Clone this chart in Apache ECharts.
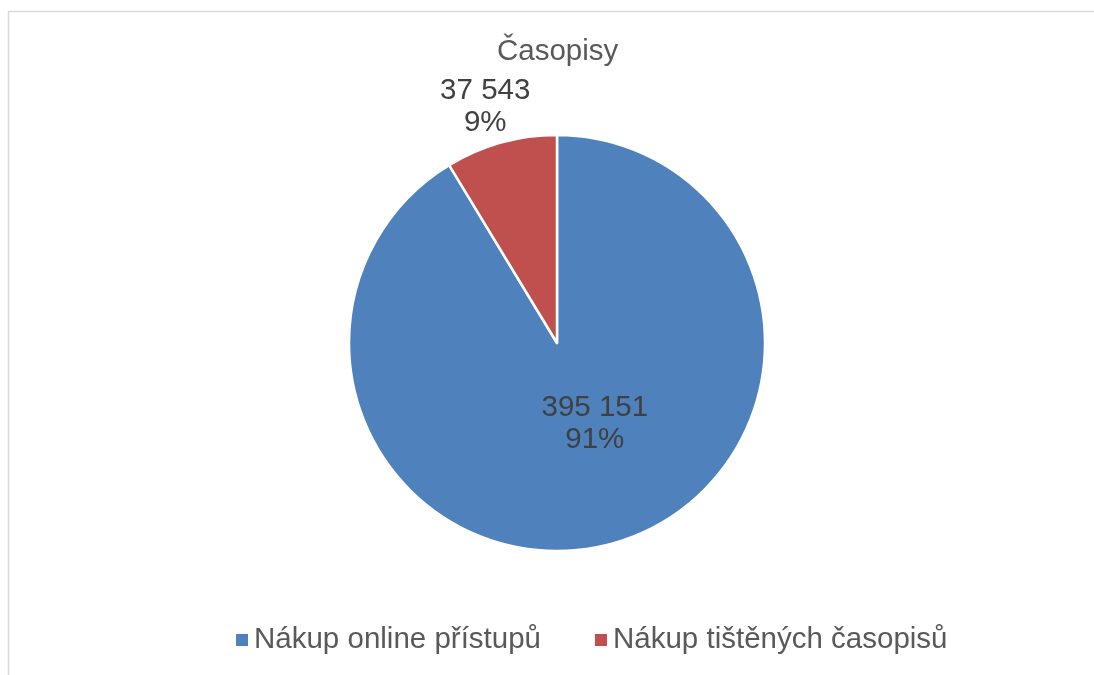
<!DOCTYPE html>
<html lang="cs">
<head>
    <meta charset="UTF-8">
    <script src="https://cdn.jsdelivr.net/npm/echarts@6/dist/echarts.min.js"></script>
    <title>Časopisy</title>
    <style>
        html, body { margin: 0; padding: 0; background: #fff; }
        #main { width: 1094px; height: 675px; }
    </style>
</head>
<body>
<div id="main"></div>
<script>
    // data
    var categories = ['Nákup online přístupů', 'Nákup tištěných časopisů'];
    var values = [395151, 37543];
    var colors = ['#4f81bd', '#c0504d'];
    var titleText = 'Časopisy';

    var font = '"Liberation Sans", Arial, sans-serif';

    function fmtNum(v) {
        return String(v).replace(/\B(?=(\d{3})+(?!\d))/g, ' ');
    }

    var pieData = categories.map(function (c, i) {
        return {
            name: c,
            value: values[i],
            itemStyle: {color: colors[i]},
            label: {position: i === 0 ? 'inside' : 'outside'}
        };
    });

    var chart = echarts.init(document.getElementById('main'));
    var option = {
        backgroundColor: '#fff',
        animation: false,
        title: {
            text: titleText,
            left: 492,
            top: 32,
            textStyle: {fontFamily: font, fontSize: 29.5, fontWeight: 'normal', color: '#595959'}
        },
        legend: {
            bottom: 15,
            left: 229,
            icon: 'rect',
            itemWidth: 14,
            itemHeight: 14,
            itemGap: 52,
            data: categories,
            textStyle: {fontFamily: font, fontSize: 29.5, color: '#595959'}
        },
        graphic: [{
            type: 'rect',
            shape: {x: 8.5, y: 11.5, width: 1200, height: 800},
            style: {fill: 'none', stroke: '#d9d9d9', lineWidth: 1.5},
            silent: true
        }],
        series: [{
            type: 'pie',
            center: [557, 343],
            radius: 208,
            startAngle: 90,
            clockwise: true,
            data: pieData,
            itemStyle: {borderColor: '#fff', borderWidth: 2.5},
            label: {
                show: true,
                fontFamily: font,
                fontSize: 29.5,
                lineHeight: 32,
                color: '#404040',
                formatter: function (p) {
                    return fmtNum(p.value) + '\n' + Math.round(p.percent) + '%';
                }
            },
            labelLine: {show: false, length: 40, length2: 0},
            labelLayout: function (p) {
                if (p.dataIndex === 0) {
                    return {dx: 9, dy: -22};
                }
                return {align: 'center', dy: 3};
            },
            emphasis: {disabled: true}
        }]
    };
    chart.setOption(option);
</script>
</body>
</html>
